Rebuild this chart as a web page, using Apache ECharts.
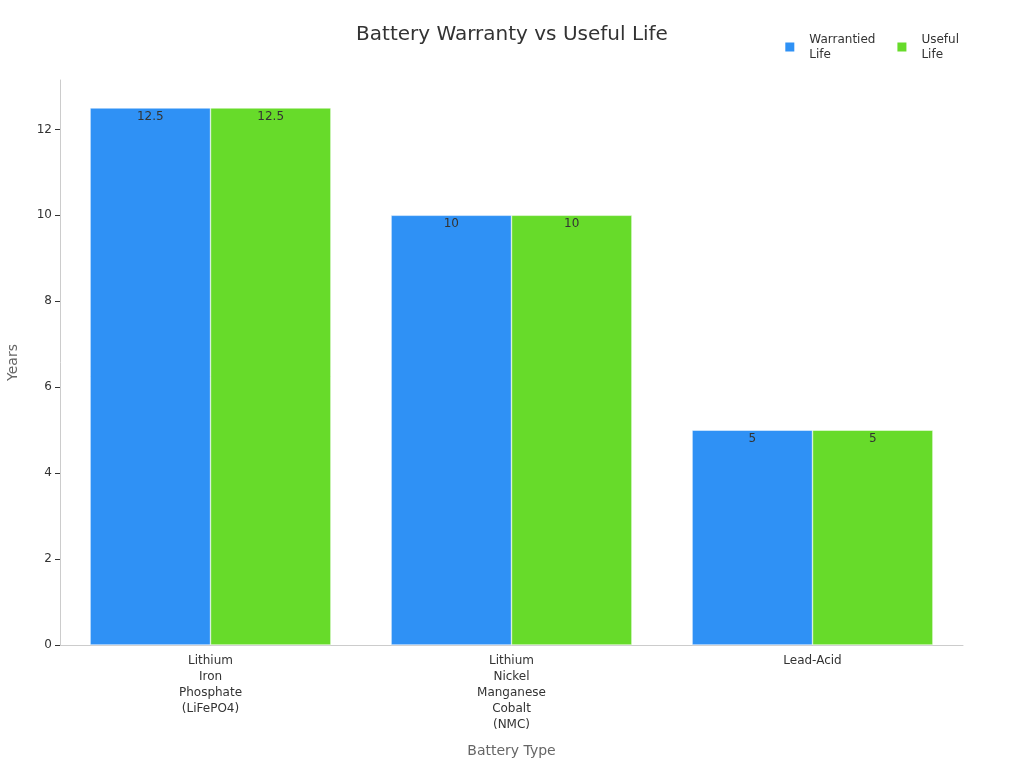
<!DOCTYPE html>
<html>
<head>
<meta charset="utf-8">
<script src="https://cdn.jsdelivr.net/npm/echarts@6/dist/echarts.min.js"></script>
<style>html,body{margin:0;padding:0;background:#fff}#chart{width:1024px;height:768px}</style>
</head>
<body>
<div id="chart"></div>
<script>
var categories = ['Lithium Iron Phosphate (LiFePO4)', 'Lithium Nickel Manganese Cobalt (NMC)', 'Lead-Acid'];
var warrantiedLife = [12.5, 10, 5];
var usefulLife = [12.5, 10, 5];

var chart = echarts.init(document.getElementById('chart'));
var labelStyle = {
    show: true,
    position: 'insideTop',
    distance: 3,
    color: '#333',
    fontSize: 12
};
chart.setOption({
    textStyle: { fontFamily: 'DejaVu Sans' },
    title: {
        text: 'Battery Warranty vs Useful Life',
        left: 'center',
        top: 20,
        textStyle: { fontSize: 20, fontWeight: 'normal', color: '#333' }
    },
    legend: {
        right: 60,
        top: 27,
        itemWidth: 11,
        itemHeight: 11,
        icon: 'rect',
        itemGap: 20,
        textStyle: { fontSize: 12, color: '#333', lineHeight: 15, padding: [0, 0, 0, 9] },
        formatter: function (name) { return name.replace(' ', '\n'); }
    },
    grid: { left: 60, right: 61, top: 80, bottom: 123, outerBoundsMode: 'none', containLabel: false },
    xAxis: {
        type: 'category',
        data: categories,
        name: 'Battery Type',
        nameLocation: 'middle',
        nameGap: 99,
        nameTextStyle: { fontSize: 14, color: '#666' },
        axisLine: { lineStyle: { color: '#ccc' } },
        axisTick: { show: false },
        axisLabel: {
            color: '#333',
            fontSize: 12,
            lineHeight: 16,
            formatter: function (v) { return v.split(' ').join('\n'); }
        }
    },
    yAxis: {
        type: 'value',
        min: 0,
        max: 13.15,
        interval: 2,
        name: 'Years',
        nameLocation: 'middle',
        nameGap: 40,
        nameTextStyle: { fontSize: 14, color: '#666' },
        splitLine: { show: false },
        axisLine: { show: true, lineStyle: { color: '#ccc' } },
        axisTick: { show: true, lineStyle: { color: '#333' } },
        axisLabel: { color: '#333', fontSize: 12, showMaxLabel: false }
    },
    series: [
        {
            name: 'Warrantied Life',
            type: 'bar',
            data: warrantiedLife,
            barGap: '0%',
            barCategoryGap: '20%',
            itemStyle: { color: '#2f91f5', borderColor: '#fff', borderWidth: 0.5 },
            label: labelStyle
        },
        {
            name: 'Useful Life',
            type: 'bar',
            data: usefulLife,
            itemStyle: { color: '#67db2a', borderColor: '#fff', borderWidth: 0.5 },
            label: labelStyle
        }
    ]
});
</script>
</body>
</html>
